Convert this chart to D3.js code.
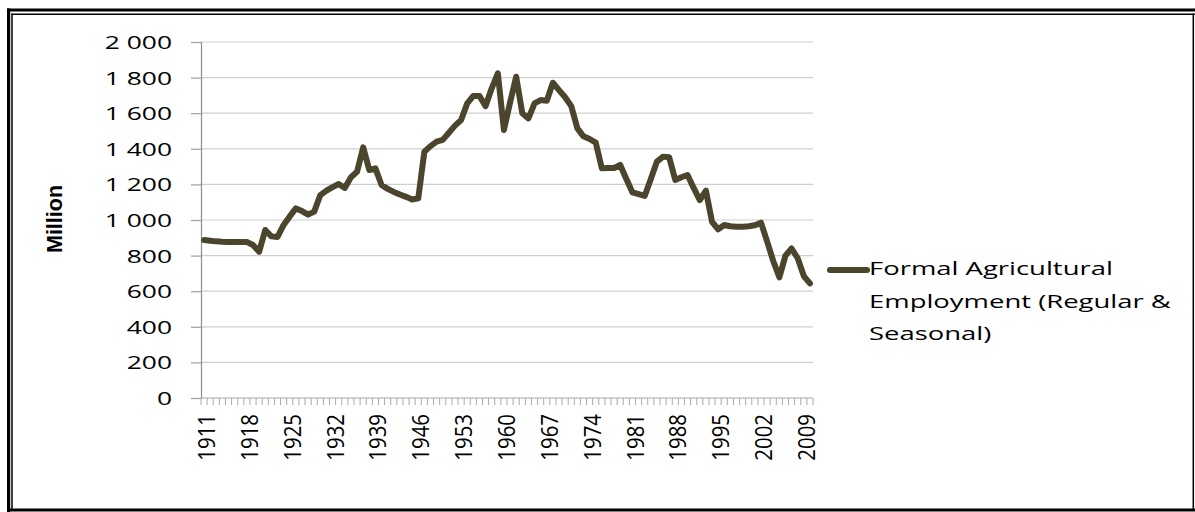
<!DOCTYPE html>
<html><head><meta charset="utf-8">
<script src="https://cdn.jsdelivr.net/npm/d3@7"></script>
<style>body{margin:0;background:#fff} svg{display:block}</style>
</head><body>
<svg id="c" width="1195" height="512"></svg>
<script>
const years = d3.range(1911, 2011);
const employment = [
  888, 884, 880, 878, 877, 877, 877, 876, 860, 822,
  944, 908, 905, 972, 1020, 1065, 1050, 1030, 1047, 1140,
  1165, 1185, 1202, 1180, 1240, 1271, 1408, 1281, 1290, 1197,
  1175, 1158, 1143, 1130, 1115, 1122, 1384, 1415, 1440, 1450,
  1490, 1530, 1562, 1655, 1697, 1697, 1640, 1740, 1824, 1506,
  1660, 1805, 1600, 1571, 1655, 1674, 1670, 1771, 1730, 1690,
  1640, 1515, 1470, 1455, 1435, 1290, 1292, 1292, 1309, 1230,
  1155, 1145, 1135, 1230, 1328, 1356, 1352, 1225, 1240, 1253,
  1180, 1112, 1165, 990, 948, 972, 965, 962, 962, 965,
  970, 985, 880, 770, 678, 800, 840, 785, 685, 644
];
const yTickValues = [0, 200, 400, 600, 800, 1000, 1200, 1400, 1600, 1800, 2000];
const xTickLabels = [1911, 1918, 1925, 1932, 1939, 1946, 1953, 1960, 1967, 1974, 1981, 1988, 1995, 2002, 2009];
const legendLines = ["Formal Agricultural", "Employment (Regular &", "Seasonal)"];
const yAxisTitle = "Million";

const data = years.map((yr, i) => ({year: yr, value: employment[i]}));
const svg = d3.select("#c");
const FONT = "'Open Sans', 'DejaVu Sans', sans-serif";
const lineColor = "#4b452d";

const x = d3.scaleBand().domain(years).range([201, 813]);
const y = d3.scaleLinear().domain([0, 2000]).range([398, 42]);
const fmt = d3.formatLocale({decimal: ".", thousands: "\u2009", grouping: [3], currency: ["", ""]}).format(",");
const fmtSp = v => fmt(v).replace("\u2009", " ");

// gridlines
svg.append("g").selectAll("line").data(yTickValues.filter(v => v > 0)).join("line")
  .attr("x1", 201).attr("x2", 813)
  .attr("y1", d => y(d)).attr("y2", d => y(d))
  .attr("stroke", "#cfcfcf").attr("stroke-width", 1.2);

// y axis
const yAxis = svg.append("g").attr("transform", "translate(201,0)")
  .call(d3.axisLeft(y).tickValues(yTickValues).tickSize(10).tickPadding(0).tickFormat(() => ""));
yAxis.select(".domain").attr("stroke", "#8c8c8c").attr("stroke-width", 1.2);
yAxis.selectAll(".tick line").attr("stroke", "#a0a0a0").attr("stroke-width", 1.2);
svg.append("g").selectAll("text").data(yTickValues).join("text")
  .attr("transform", d => `translate(172,${y(d)}) scale(1.42,1)`)
  .attr("text-anchor", "end").attr("dominant-baseline", "central")
  .attr("font-family", FONT).attr("font-size", 18.6).attr("fill", "#000")
  .text(d => fmtSp(d));

// x axis line and boundary ticks
svg.append("line").attr("x1", 201).attr("x2", 813).attr("y1", 398).attr("y2", 398)
  .attr("stroke", "#a8a8a8").attr("stroke-width", 1.2);
svg.append("g").selectAll("line").data(years.concat([null])).join("line")
  .attr("x1", d => d === null ? x.range()[1] : x(d))
  .attr("x2", d => d === null ? x.range()[1] : x(d))
  .attr("y1", 398).attr("y2", 405)
  .attr("stroke", "#a8a8a8").attr("stroke-width", 1);
svg.append("g").selectAll("text").data(xTickLabels).join("text")
  .attr("transform", d => `translate(${x(d) + x.bandwidth() / 2 + 2},414) rotate(-90) scale(1,1.15)`)
  .attr("text-anchor", "end").attr("dominant-baseline", "central")
  .attr("font-family", FONT).attr("font-size", 20.4).attr("fill", "#000")
  .text(d => d);

// y title
svg.append("text")
  .attr("transform", "translate(55,219) rotate(-90)")
  .attr("text-anchor", "middle").attr("dominant-baseline", "central")
  .attr("font-family", "'Liberation Sans', Arial, sans-serif")
  .attr("font-weight", "bold").attr("font-size", 21.5).attr("fill", "#000")
  .text(yAxisTitle);

// series line
svg.append("path").datum(data)
  .attr("fill", "none").attr("stroke", lineColor).attr("stroke-width", 6)
  .attr("stroke-linejoin", "round").attr("stroke-linecap", "round")
  .attr("d", d3.line().x(d => x(d.year) + x.bandwidth() / 2).y(d => y(d.value)));

// legend
svg.append("line").attr("x1", 830).attr("x2", 867).attr("y1", 270).attr("y2", 270)
  .attr("stroke", lineColor).attr("stroke-width", 6).attr("stroke-linecap", "round");
svg.append("g").selectAll("text").data(legendLines).join("text")
  .attr("transform", (d, i) => `translate(869,${275 + i * 32.5}) scale(1.46,1)`)
  .attr("font-family", FONT).attr("font-size", 18.8).attr("fill", "#000")
  .text(d => d);

// border
const border = svg.append("g").attr("stroke", "#000").attr("fill", "none");
border.append("line").attr("x1", 7).attr("x2", 1195).attr("y1", 10).attr("y2", 10).attr("stroke-width", 3.2);
border.append("line").attr("x1", 8.6).attr("x2", 8.6).attr("y1", 8.4).attr("y2", 512).attr("stroke-width", 3.2);
border.append("line").attr("x1", 7).attr("x2", 1195).attr("y1", 510).attr("y2", 510).attr("stroke-width", 3.2);
border.append("line").attr("x1", 11.5).attr("x2", 1195).attr("y1", 14.2).attr("y2", 14.2).attr("stroke-width", 1.6);
border.append("line").attr("x1", 12).attr("x2", 12).attr("y1", 13.5).attr("y2", 509).attr("stroke-width", 1.5);
border.append("line").attr("x1", 1193.3).attr("x2", 1193.3).attr("y1", 13.5).attr("y2", 509).attr("stroke-width", 1.5);
</script>
</body></html>
